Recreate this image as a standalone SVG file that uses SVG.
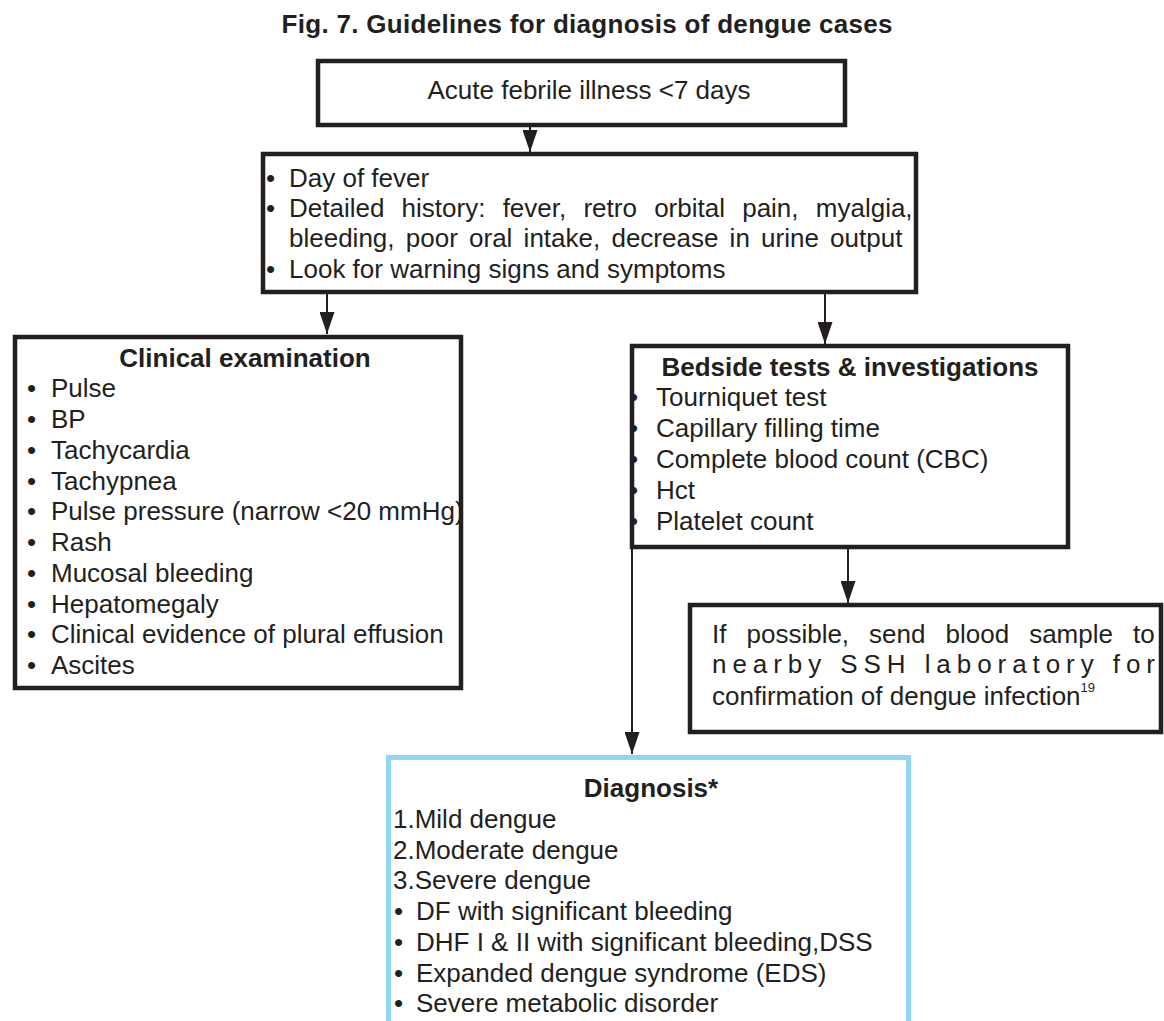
<svg xmlns="http://www.w3.org/2000/svg" width="1164" height="1021" viewBox="0 0 1164 1021">
<defs>
<style>
text{font-family:"Liberation Sans",Arial,sans-serif;fill:#231f20;font-size:26px}
.b{font-weight:bold}
.box{fill:#fff;stroke:#231f20;stroke-width:4.5}
.blue{fill:#fff;stroke:#8fd7f5;stroke-width:5}
.conn{stroke:#231f20;stroke-width:2;fill:none}
</style>
<marker id="ah" markerUnits="userSpaceOnUse" markerWidth="22" markerHeight="15" refX="22" refY="7.5" orient="auto" viewBox="0 0 22 15">
<path d="M0,0 L22,7.5 L0,15 Z" fill="#231f20"/>
</marker>
</defs>
<rect width="1164" height="1021" fill="#fff"/>
<text class="b" x="587" y="33" text-anchor="middle" font-size="25" textLength="611">Fig. 7. Guidelines for diagnosis of dengue cases</text>

<g id="n1">
<rect class="box" x="318" y="61" width="527" height="64"/>
<text x="589" y="99" text-anchor="middle">Acute febrile illness &lt;7 days</text>
</g>

<g id="n2">
<rect class="box" x="263" y="154" width="653" height="138"/>
<text y="187"><tspan x="266">•</tspan><tspan x="289">Day of fever</tspan></text>
<text y="217"><tspan x="266">•</tspan><tspan x="289" word-spacing="10">Detailed history: fever, retro orbital pain, myalgia,</tspan></text>
<text y="247" x="289" word-spacing="4">bleeding, poor oral intake, decrease in urine output</text>
<text y="278"><tspan x="266">•</tspan><tspan x="289">Look for warning signs and symptoms</tspan></text>
</g>

<g id="n3">
<rect class="box" x="15" y="337" width="446" height="351"/>
<text class="b" x="245" y="367" text-anchor="middle">Clinical examination</text>
<text y="397"><tspan x="27">•</tspan><tspan x="51">Pulse</tspan></text>
<text y="428"><tspan x="27">•</tspan><tspan x="51">BP</tspan></text>
<text y="459"><tspan x="27">•</tspan><tspan x="51">Tachycardia</tspan></text>
<text y="490"><tspan x="27">•</tspan><tspan x="51">Tachypnea</tspan></text>
<text y="520"><tspan x="27">•</tspan><tspan x="51">Pulse pressure (narrow &lt;20 mmHg)</tspan></text>
<text y="551"><tspan x="27">•</tspan><tspan x="51">Rash</tspan></text>
<text y="582"><tspan x="27">•</tspan><tspan x="51">Mucosal bleeding</tspan></text>
<text y="613"><tspan x="27">•</tspan><tspan x="51">Hepatomegaly</tspan></text>
<text y="643"><tspan x="27">•</tspan><tspan x="51">Clinical evidence of plural effusion</tspan></text>
<text y="674"><tspan x="27">•</tspan><tspan x="51">Ascites</tspan></text>
</g>

<g id="n4">
<rect class="box" x="632" y="346" width="436" height="201"/>
<text class="b" x="850" y="376" text-anchor="middle">Bedside tests &amp; investigations</text>
<text y="406"><tspan x="629">•</tspan><tspan x="656">Tourniquet test</tspan></text>
<text y="437"><tspan x="629">•</tspan><tspan x="656">Capillary filling time</tspan></text>
<text y="468"><tspan x="629">•</tspan><tspan x="656">Complete blood count (CBC)</tspan></text>
<text y="499"><tspan x="629">•</tspan><tspan x="656">Hct</tspan></text>
<text y="530"><tspan x="629">•</tspan><tspan x="656">Platelet count</tspan></text>
</g>

<g id="n5">
<rect class="box" x="690" y="605" width="471" height="127"/>
<text x="712" y="643" word-spacing="12.8">If possible, send blood sample to</text>
<text x="712" y="673" textLength="443" lengthAdjust="spacing">nearby SSH laboratory for</text>
<text x="712" y="705">confirmation of dengue infection<tspan font-size="13" dy="-13">19</tspan></text>
</g>

<g id="n6">
<rect class="blue" x="388.5" y="757.5" width="520" height="300"/>
<text class="b" x="651" y="797" text-anchor="middle">Diagnosis*</text>
<text x="393" y="828">1.Mild dengue</text>
<text x="393" y="859">2.Moderate dengue</text>
<text x="393" y="889">3.Severe dengue</text>
<text y="920"><tspan x="394">•</tspan><tspan x="416">DF with significant bleeding</tspan></text>
<text y="951"><tspan x="394">•</tspan><tspan x="416">DHF I &amp; II with significant bleeding,DSS</tspan></text>
<text y="982"><tspan x="394">•</tspan><tspan x="416">Expanded dengue syndrome (EDS)</tspan></text>
<text y="1012"><tspan x="394">•</tspan><tspan x="416">Severe metabolic disorder</tspan></text>
</g>

<g id="connectors">
<path class="conn" d="M530,127 V152" marker-end="url(#ah)"/>
<path class="conn" d="M327,294 V334" marker-end="url(#ah)"/>
<path class="conn" d="M825,294 V344" marker-end="url(#ah)"/>
<path class="conn" d="M848,549 V603" marker-end="url(#ah)"/>
<path class="conn" d="M632,549 V754" marker-end="url(#ah)"/>
</g>
</svg>
